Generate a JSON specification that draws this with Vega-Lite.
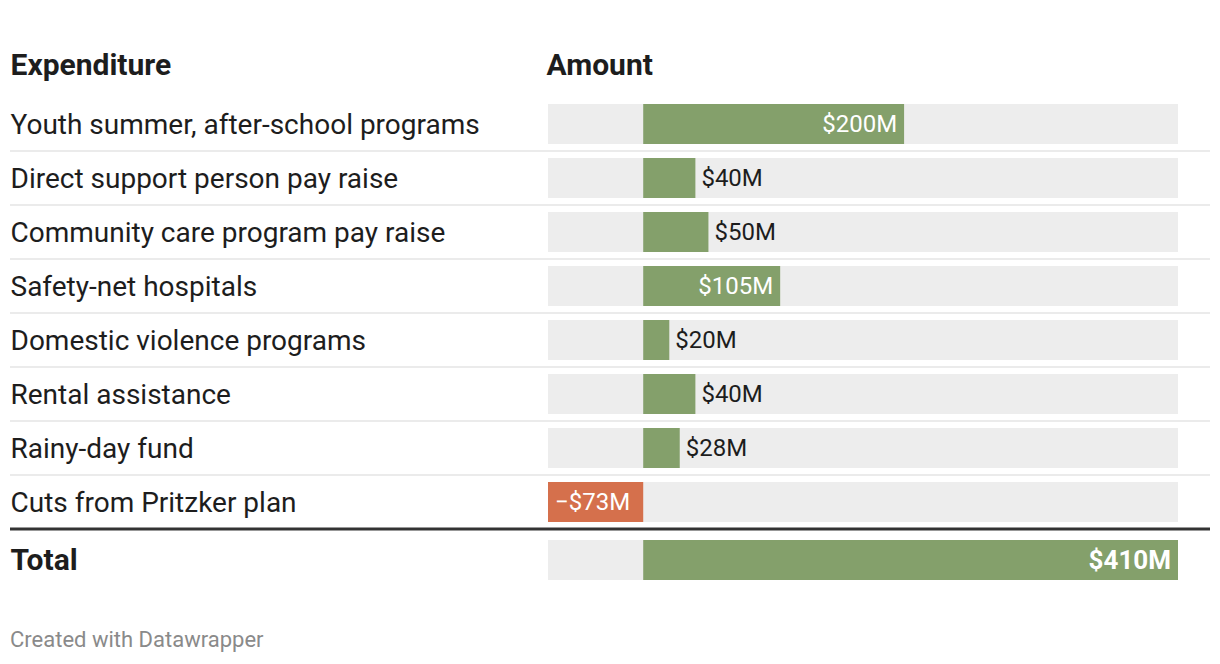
{
  "$schema": "https://vega.github.io/schema/vega-lite/v6.json",
  "width": 1200,
  "height": 486,
  "autosize": {"type": "none"},
  "padding": {"left": 10, "top": 97, "right": 10, "bottom": 81},
  "background": "white",
  "config": {
    "view": {"stroke": null},
    "font": "Roboto",
    "locale": {"number": {"decimal": ".", "thousands": ",", "grouping": [3], "currency": ["$", "M"], "minus": "\u2212"}}
  },
  "title": {
    "text": "Created with Datawrapper",
    "orient": "bottom",
    "anchor": "start",
    "frame": "group",
    "offset": 47,
    "fontSize": 22,
    "fontWeight": "normal",
    "color": "#8a8a8a",
    "font": "Roboto"
  },
  "data": {
    "values": [
      {"item": "Youth summer, after-school programs", "amount": 200},
      {"item": "Direct support person pay raise", "amount": 40},
      {"item": "Community care program pay raise", "amount": 50},
      {"item": "Safety-net hospitals", "amount": 105},
      {"item": "Domestic violence programs", "amount": 20},
      {"item": "Rental assistance", "amount": 40},
      {"item": "Rainy-day fund", "amount": 28},
      {"item": "Cuts from Pritzker plan", "amount": -73},
      {"item": "Total", "amount": 410}
    ]
  },
  "transform": [
    {"joinaggregate": [{"op": "min", "field": "amount", "as": "lo"}, {"op": "max", "field": "amount", "as": "hi"}]}
  ],
  "encoding": {
    "y": {
      "field": "item",
      "type": "nominal",
      "sort": null,
      "scale": {"paddingInner": 0, "paddingOuter": 0},
      "axis": {
        "orient": "left",
        "domain": false,
        "ticks": false,
        "tickSize": 0,
        "labelPadding": 0,
        "labelAlign": "left",
        "labelBaseline": "middle",
        "labelOffset": {"condition": {"test": "datum.value === 'Total'", "value": 5}, "value": 2},
        "labelLimit": 1000,
        "labelOverlap": false,
        "labelFont": "Roboto",
        "labelColor": "#1d1d1d",
        "labelFontSize": {"condition": {"test": "datum.value === 'Total'", "value": 30}, "value": 28},
        "labelFontWeight": {"condition": {"test": "datum.value === 'Total'", "value": "bold"}, "value": "normal"},
        "title": "Expenditure",
        "titleAngle": 0,
        "titleAlign": "left",
        "titleBaseline": "alphabetic",
        "titleX": 0,
        "titleY": -23,
        "titleFont": "Roboto",
        "titleFontSize": 30,
        "titleFontWeight": "bold",
        "titleColor": "#1d1d1d"
      }
    }
  },
  "layer": [
    {
      "transform": [{"filter": "datum.item !== 'Total'"}],
      "mark": {"type": "bar", "color": "#ededed", "height": {"band": 0.74}},
      "encoding": {
        "x": {
          "field": "lo",
          "type": "quantitative",
          "scale": {"nice": false, "zero": true, "range": [538, 1168]},
          "axis": {
            "orient": "top",
            "labels": false,
            "ticks": false,
            "domain": false,
            "grid": false,
            "title": "Amount",
            "titleAnchor": "start",
            "titleAlign": "left",
            "titleBaseline": "alphabetic",
            "titleX": 536,
            "titleY": -23,
            "titleFont": "Roboto",
            "titleFontSize": 30,
            "titleFontWeight": "bold",
            "titleColor": "#1d1d1d"
          }
        },
        "x2": {"field": "hi"}
      }
    },
    {
      "transform": [{"filter": "datum.item === 'Total'"}],
      "mark": {"type": "bar", "color": "#ededed", "height": {"band": 0.74}, "yOffset": 4},
      "encoding": {
        "x": {"field": "lo", "type": "quantitative"},
        "x2": {"field": "hi"}
      }
    },
    {
      "transform": [{"filter": "datum.item !== 'Total' && datum.item !== 'Cuts from Pritzker plan'"}],
      "mark": {"type": "rule", "color": "#ebebeb", "strokeWidth": 2},
      "encoding": {"y": {"field": "item", "type": "nominal", "sort": null, "bandPosition": 1}}
    },
    {
      "transform": [{"filter": "datum.item === 'Cuts from Pritzker plan'"}],
      "mark": {"type": "rule", "color": "#333333", "strokeWidth": 3},
      "encoding": {"y": {"field": "item", "type": "nominal", "sort": null, "bandPosition": 1}}
    },
    {
      "transform": [{"filter": "datum.item !== 'Total'"}],
      "mark": {"type": "bar", "height": {"band": 0.74}},
      "encoding": {
        "x": {"field": "amount", "type": "quantitative"},
        "x2": {"datum": 0},
        "color": {"condition": {"test": "datum.amount < 0", "value": "#d5704c"}, "value": "#84a06b"}
      }
    },
    {
      "transform": [{"filter": "datum.item === 'Total'"}],
      "mark": {"type": "bar", "height": {"band": 0.74}, "yOffset": 4, "color": "#84a06b"},
      "encoding": {
        "x": {"field": "amount", "type": "quantitative"},
        "x2": {"datum": 0}
      }
    },
    {
      "mark": {"type": "rule", "color": "#333333", "strokeWidth": 1.5, "y2Offset": 5},
      "encoding": {"x": {"datum": 0}}
    },
    {
      "transform": [{"filter": "datum.amount >= 100 && datum.item !== 'Total'"}],
      "mark": {"type": "text", "align": "right", "baseline": "middle", "dx": -7, "dy": 1, "fontSize": 24, "color": "white", "font": "Roboto"},
      "encoding": {
        "x": {"field": "amount", "type": "quantitative"},
        "text": {"field": "amount", "type": "quantitative", "format": "$.0f"}
      }
    },
    {
      "transform": [{"filter": "datum.amount < 0"}],
      "mark": {"type": "text", "align": "left", "baseline": "middle", "dx": 7, "dy": 1, "fontSize": 24, "color": "white", "font": "Roboto"},
      "encoding": {
        "x": {"field": "amount", "type": "quantitative"},
        "text": {"field": "amount", "type": "quantitative", "format": "$.0f"}
      }
    },
    {
      "transform": [{"filter": "datum.amount >= 0 && datum.amount < 100"}],
      "mark": {"type": "text", "align": "left", "baseline": "middle", "dx": 6, "dy": 1, "fontSize": 24, "color": "#1d1d1d", "font": "Roboto"},
      "encoding": {
        "x": {"field": "amount", "type": "quantitative"},
        "text": {"field": "amount", "type": "quantitative", "format": "$.0f"}
      }
    },
    {
      "transform": [{"filter": "datum.item === 'Total'"}],
      "mark": {"type": "text", "align": "right", "baseline": "middle", "dx": -7, "dy": 5, "fontSize": 26, "fontWeight": "bold", "color": "white", "font": "Roboto"},
      "encoding": {
        "x": {"field": "amount", "type": "quantitative"},
        "text": {"field": "amount", "type": "quantitative", "format": "$.0f"}
      }
    }
  ]
}
